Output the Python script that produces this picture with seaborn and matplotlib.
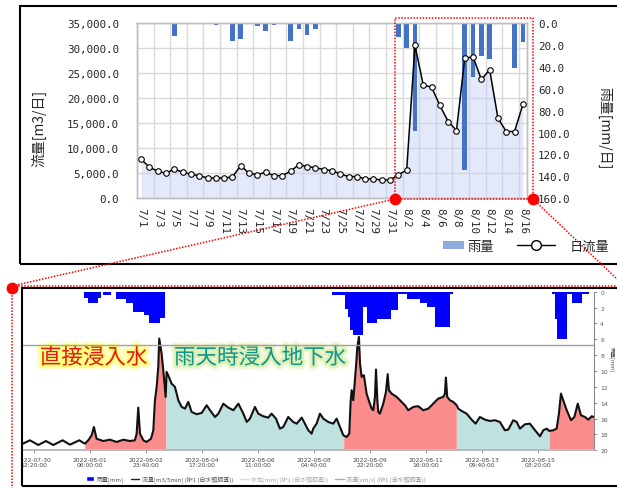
import numpy as np
import pandas as pd
import matplotlib
matplotlib.use("Agg")
import matplotlib.pyplot as plt
import matplotlib.patheffects as pe
from matplotlib.patches import Rectangle, Patch
from matplotlib.lines import Line2D
import seaborn as sns

W, H = 617, 489

# ---- top chart: daily flow [m3/day] and daily rain [mm/day], 7/1 - 8/16
days = pd.date_range("2022-07-01", "2022-08-16", freq="D")
day_labels = [f"{d.month}/{d.day}" for d in days]
daily_flow = [7800, 6200, 5400, 5000, 5860, 5200, 4800, 4520, 4060, 4060,
              4060, 4260, 6520, 5000, 4720, 5200, 4520, 4520, 5400, 6720,
              6300, 6130, 5730, 5530, 4860, 4330, 4330, 3860, 3860, 3660,
              3660, 4730, 5600, 30530, 22600, 22200, 18530, 15330, 13530, 28000,
              28200, 23730, 25660, 16000, 13330, 13330, 18730]
daily_rain = [0.5, 0, 0, 0, 11.6, 0, 0, 0, 0, 1.5,
              0, 16.7, 14.6, 0, 2.4, 7.6, 1.5, 0, 16.7, 5.8,
              10.6, 5.5, 0.9, 0.9, 0, 0, 0, 0, 0, 0,
              0, 13, 22.5, 98.8, 0, 0, 0, 0, 1, 134,
              49, 30.4, 33, 0, 0, 41, 17.6]

# ---- bottom chart: 5-min record, hours after 2022-07-30 12:20
t0 = pd.Timestamp("2022-07-30 12:20")
flow_h = [-9.2, -3.0, 3.2, 8.9, 14.4, 21.3, 26.8, 33.7, 37.9, 40.4,
          42.9, 44.6, 46.6, 51.6, 56.5, 61.5, 66.5, 71.4, 75.1, 76.4,
          77.6, 78.9, 81.4, 83.8, 87.1, 88.8, 90.0, 91.3, 92.5, 93.2,
          95.0, 96.7, 98.0, 98.7, 100.4, 102.4, 104.9, 107.4, 109.9, 112.4,
          114.8, 117.3, 121.0, 124.8, 128.5, 131.0, 134.7, 137.2, 140.9, 144.6,
          148.4, 152.1, 155.8, 158.3, 160.7, 164.4, 166.9, 170.6, 174.3, 176.8,
          180.1, 183.0, 185.5, 189.2, 192.9, 195.5, 199.2, 201.6, 204.1, 206.6,
          207.8, 210.3, 212.8, 215.3, 219.0, 222.7, 225.2, 227.7, 230.2, 232.7,
          234.6, 235.6, 236.4, 237.6, 238.3, 239.6, 240.6, 241.8, 242.6, 243.8,
          245.5, 247.5, 249.5, 251.3, 252.5, 253.7, 254.5, 255.5, 256.2, 257.4,
          259.9, 261.9, 263.2, 264.1, 266.1, 269.9, 273.6, 276.0, 278.5, 282.2,
          286.0, 289.7, 293.4, 297.1, 300.8, 304.5, 305.8, 306.5, 307.5, 309.5,
          312.0, 314.5, 315.7, 318.2, 321.9, 325.7, 328.6, 331.8, 335.6, 339.3,
          343.0, 346.7, 350.4, 352.9, 356.6, 359.2, 361.6, 365.3, 369.0, 372.8,
          376.5, 379.0, 381.5, 383.4, 386.4, 388.9, 390.6, 392.1, 393.8, 396.4,
          399.6, 402.1, 404.6, 407.0, 410.0, 412.5, 415.0, 416.7]
flow_v = [0.76, 1.26, 0.67, 1.17, 0.67, 1.26, 0.71, 1.26, 0.83, 1.26,
          1.89, 2.94, 1.46, 1.17, 1.34, 1.05, 1.34, 1.17, 1.26, 2.1,
          5.38, 2.1, 1.26, 1.05, 1.46, 2.53, 6.31, 7.99, 10.52, 14.09,
          12.2, 9.25, 6.73, 9.89, 9.25, 8.41, 7.99, 6.31, 5.47, 5.25,
          6.1, 4.84, 4.55, 4.71, 5.68, 5.05, 4.2, 4.62, 5.88, 5.38,
          5.05, 5.88, 4.62, 3.57, 3.99, 5.47, 4.62, 4.29, 4.12, 4.62,
          3.99, 2.73, 2.94, 4.2, 3.57, 3.36, 4.12, 3.36, 2.53, 2.1,
          2.73, 3.36, 4.62, 3.99, 3.57, 3.36, 3.99, 2.94, 1.89, 1.68,
          2.1, 6.1, 7.58, 6.31, 7.78, 10.52, 13.04, 14.3, 10.93, 9.25,
          9.47, 7.15, 6.1, 5.25, 5.05, 6.73, 10.18, 6.31, 4.84, 4.62,
          5.88, 7.36, 9.6, 7.58, 7.15, 6.73, 6.1, 5.68, 5.05, 5.47,
          5.56, 5.05, 5.25, 5.88, 6.52, 6.73, 7.15, 9.17, 6.73, 6.31,
          6.1, 5.68, 5.25, 4.96, 4.62, 3.86, 3.36, 4.2, 3.86, 3.7,
          3.79, 3.57, 2.53, 2.6, 3.79, 3.57, 2.73, 3.28, 3.36, 2.53,
          1.77, 2.53, 2.73, 2.44, 2.53, 2.73, 4.62, 7.15, 6.31, 5.05,
          3.79, 4.2, 5.88, 4.42, 4.2, 3.86, 4.29, 4.2]
rain_start = [37.4, 40.4, 47.8, 51.1, 60.8, 68.5, 73.9, 81.8, 85.8, 93.8,
              221.4, 231.3, 233.9, 235.1, 237.6, 245.0, 247.5, 255.0, 265.4, 270.8,
              277.3, 287.2, 292.2, 298.4, 309.5,
              385.2, 387.6, 388.9, 396.4, 400.1, 407.5]
rain_end = [40.4, 47.8, 49.6, 57.1, 68.5, 73.9, 81.8, 85.8, 93.8, 97.5,
            231.3, 233.9, 235.1, 237.6, 245.0, 247.5, 255.0, 265.4, 270.8, 277.3,
            287.2, 292.2, 298.4, 309.5, 312.0,
            387.6, 388.9, 396.4, 400.1, 407.5, 413.2]
rain_mm = [0.85, 1.39, 0.85, 0.42, 0.88, 1.39, 2.53, 2.95, 3.91, 3.37,
           0.42, 2.15, 3.2, 4.88, 5.43, 1.94, 3.91, 3.45, 2.31, 0.3,
           0.97, 1.47, 1.89, 4.42, 0.25,
           0.3, 3.4, 5.97, 0.3, 1.43, 0.3]
# direct inflow (red) / rainy-day groundwater (teal) separation
zone_edges = [37.9, 98.2, 230.5, 314.3, 383.4, 416.7]
zone_kind = ["direct", "ground", "direct", "ground", "direct"]
tick_times = pd.date_range(t0, periods=10, freq="2500min")

sns.set_theme(style="white")
plt.rcParams["font.family"] = ["Noto Sans CJK JP", "DejaVu Sans"]
MONO = "DejaVu Sans Mono"

fig = plt.figure(figsize=(W / 100, H / 100), dpi=100)


def fx(px):
    return px / W


def fy(py):
    return 1 - py / H


def box(l, t, r, b):
    return [fx(l), fy(b), fx(r) - fx(l), fy(t) - fy(b)]


# ================= top chart =================
idx = np.arange(len(days))
ax1 = fig.add_axes(box(137, 24, 527, 199.3))
ax1.fill_between(idx, daily_flow, 0, color="#C3D0F4", alpha=0.45, lw=0)
ax1.set_xlim(-0.5, len(days) - 0.5)
ax1.set_ylim(0, 35000)
yt = np.arange(0, 35001, 5000)
ax1.set_yticks(yt, [f"{v:,.1f}" for v in yt], fontfamily=MONO, fontsize=7.8, color="#262626")
ax1.set_xticks(idx[::2], day_labels[::2], rotation=270, fontfamily=MONO, fontsize=7.8, color="#262626")
ax1.set_xticks(np.arange(-0.5, len(days) - 1, 2), minor=True)
ax1.grid(axis="y", which="major", color="#D9D9D9", lw=1)
ax1.grid(axis="x", which="minor", color="#D9D9D9", lw=1)
ax1.tick_params(axis="both", which="both", length=0)
ax1.tick_params(axis="y", pad=13)
ax1.tick_params(axis="x", pad=6)

ax1r = ax1.twinx()
ax1r.bar(idx, daily_rain, width=0.55, color="#4472C4", lw=0, zorder=2)
sns.lineplot(x=idx, y=daily_flow, ax=ax1r, transform=ax1.transData, color="black",
             lw=1.1, marker="o", markersize=4, markerfacecolor="white",
             markeredgecolor="black", markeredgewidth=0.8, zorder=3)
ax1r.set_xlim(-0.5, len(days) - 0.5)
ax1r.set_ylim(160, 0)
rt = np.arange(0, 161, 20)
ax1r.set_yticks(rt, [f"{v:.1f}" for v in rt], fontfamily=MONO, fontsize=7.8, color="#262626")
ax1r.tick_params(axis="y", length=0, pad=8)
ax1r.set_ylabel("")
for a in (ax1, ax1r):
    for s in a.spines.values():
        s.set_color("#BFBFBF")
        s.set_linewidth(1)

fig.text(fx(39), fy(128), "流量[m3/日]", rotation=90, ha="center", va="center", fontsize=10)
fig.text(fx(604), fy(128), "雨量[mm/日]", rotation=270, ha="center", va="center", fontsize=10)

fig.legend(handles=[Patch(facecolor="#8FAADC", edgecolor="none")], labels=["雨量"],
           loc="center left", bbox_to_anchor=(fx(443), fy(247)), frameon=False,
           fontsize=9.5, handlelength=1.6, handleheight=0.6, handletextpad=0.25,
           borderpad=0, borderaxespad=0)
fig.legend(handles=[Line2D([0], [0], color="black", lw=1, marker="o", ms=7,
                           mfc="white", mec="black", mew=1)], labels=["日流量"],
           loc="center left", bbox_to_anchor=(fx(517), fy(247)), frameon=False,
           fontsize=9.5, handlelength=2.9, handletextpad=1.1,
           borderpad=0, borderaxespad=0)

# ================= bottom chart (5-min record) =================
h = np.array(flow_h)
v = np.array(flow_v)
zone_color = {"direct": "#FA8C8C", "ground": "#BFE2E0"}
ax2 = fig.add_axes(box(22, 292.7, 594, 451.3))
for a, b, kind in zip(zone_edges[:-1], zone_edges[1:], zone_kind):
    inside = (h > a) & (h < b)
    hh = np.r_[a, h[inside], b]
    vv = np.r_[np.interp(a, h, v), v[inside], np.interp(b, h, v)]
    ax2.fill_between(hh, vv, 0, color=zone_color[kind], lw=0)
sns.lineplot(x=h, y=v, ax=ax2, color="#111111", lw=1.5, zorder=3)
ax2.set_xlim(-8.9, 416.7)
ax2.set_ylim(0, 20)
ax2.set_yticks([])
tick_h = [(t - t0) / pd.Timedelta(hours=1) for t in tick_times]
ax2.set_xticks(tick_h, [f"{t:%Y-%m-%d}\n{t:%H:%M:%S}" for t in tick_times],
               fontsize=4.3, color="#444444", fontfamily="DejaVu Sans")
ax2.tick_params(axis="x", length=2.5, width=0.6, color="#888888", pad=2, bottom=True)

ax2r = ax2.twinx()
ax2r.bar(rain_start, rain_mm, width=np.array(rain_end) - np.array(rain_start),
         align="edge", color="#0000FF", lw=0)
ax2r.set_ylim(20, 0)
ax2r.axhline(6.68, color="#A0A0A0", lw=1)
ax2r.set_yticks(np.arange(0, 21, 2), [str(k) for k in range(0, 21, 2)],
                fontsize=4.3, color="#555555", fontfamily="DejaVu Sans")
ax2r.tick_params(axis="y", length=2.5, width=0.6, color="#888888", pad=2, right=True)
for a in (ax2, ax2r):
    a.spines["top"].set_visible(False)
    a.spines["left"].set_visible(False)
    a.spines["bottom"].set_color("#BBBBBB")
    a.spines["right"].set_color("#888888")
    a.spines["right"].set_linewidth(0.8)
ax2.spines["right"].set_visible(False)
fig.text(fx(612), fy(360), "雨量[mm]", rotation=270, ha="center", va="center",
         fontsize=4, color="#555555")

ax2.text(fx(93.5), fy(358.8), "直接浸入水", transform=fig.transFigure, ha="center",
         va="center", fontsize=15.5, color="#E41A1A", zorder=5,
         path_effects=[pe.Stroke(linewidth=7, foreground="#FFFF9A", alpha=0.5),
                       pe.Stroke(linewidth=3.5, foreground="#FFFF70", alpha=0.9),
                       pe.Normal()])
ax2.text(fx(260), fy(358.8), "雨天時浸入地下水", transform=fig.transFigure, ha="center",
         va="center", fontsize=15.5, color="#109590", zorder=5,
         path_effects=[pe.Stroke(linewidth=7, foreground="#E8F5C0", alpha=0.5),
                       pe.Stroke(linewidth=3.5, foreground="#DDF0B0", alpha=0.9),
                       pe.Normal()])

leg = ax2.legend(handles=[Patch(facecolor="#0000FF"),
                          Line2D([0], [0], color="#222222", lw=1),
                          Line2D([0], [0], color="#B8E8F0", lw=1),
                          Line2D([0], [0], color="#AAAAAA", lw=1)],
                 labels=["雨量[mm]", "流量[m3/5min] (№1 (自水頭調査))",
                         "水位[mm] (№1 (自水頭調査))", "流速[cm/s] (№1 (自水頭調査))"],
                 loc="center left", bbox_to_anchor=(fx(86), fy(480)),
                 bbox_transform=fig.transFigure, ncol=4, fontsize=4.3, frameon=False,
                 handlelength=1.4, handleheight=0.8, handletextpad=0.4, columnspacing=1.2,
                 borderpad=0, borderaxespad=0)
for txt, c in zip(leg.get_texts(), ["#555555", "#555555", "#AAAAAA", "#999999"]):
    txt.set_color(c)

# ================= frames and red zoom guides =================
fig.add_artist(Rectangle((fx(20), fy(265)), fx(660) - fx(20), fy(7) - fy(265), fill=False,
                         ec="black", lw=1.5, transform=fig.transFigure))
clip_box = Rectangle((fx(22), fy(487)), fx(660) - fx(22), fy(289) - fy(487), fill=False,
                     ec="black", lw=1.5, transform=fig.transFigure)
fig.add_artist(clip_box)

dot = dict(color="#FF0000", lw=1.1, ls=(0, (1, 1)), transform=fig.transFigure)
fig.add_artist(Rectangle((fx(395), fy(200)), fx(533) - fx(395), fy(19) - fy(200), fill=False,
                         ec="#FF0000", lw=1.1, ls=(0, (1, 1)), transform=fig.transFigure))
for xs, ys in [([395, 12], [200, 287]), ([533, 640], [200, 302]),
               ([12, 640], [287, 287]), ([12, 12], [287, 500])]:
    fig.add_artist(Line2D([fx(x) for x in xs], [fy(y) for y in ys], **dot))
for x, y in [(395, 200), (533, 200), (12, 289)]:
    fig.add_artist(Line2D([fx(x)], [fy(y)], marker="o", ms=7.5, color="#FF0000",
                          lw=0, transform=fig.transFigure))

fig.canvas.draw()
for tk in ax2.xaxis.get_major_ticks():
    tk.label1.set_clip_path(clip_box)

fig.savefig("out.png", dpi=100, facecolor="white")
